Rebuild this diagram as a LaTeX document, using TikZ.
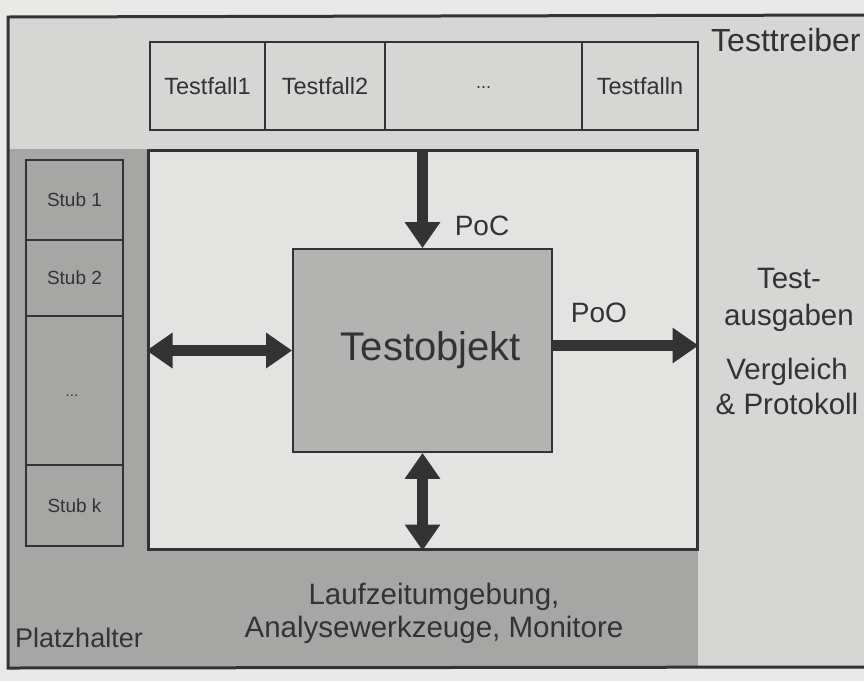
\documentclass[tikz,border=0pt]{standalone}
\usepackage{fontspec}
\setmainfont{Liberation Sans}
\usetikzlibrary{arrows.meta}
\definecolor{paper}{HTML}{E9E9E7}
\definecolor{lightbg}{HTML}{D6D6D4}
\definecolor{graybg}{HTML}{A6A6A4}
\definecolor{innerbg}{HTML}{E3E3E1}
\definecolor{objbg}{HTML}{B3B3B1}
\definecolor{ink}{HTML}{333333}
\tikzset{
  cell/.style={draw=ink, line width=1.6pt, fill=lightbg, inner sep=0pt, text=ink, font=\fontsize{23.5}{26}\selectfont},
  stubcell/.style={draw=ink, line width=1.6pt, fill=graybg, inner sep=0pt, text=ink, font=\fontsize{19}{22}\selectfont},
  lbl/.style={text=ink, inner sep=0pt, align=center, font=\fontsize{28}{36}\selectfont},
  fat/.style={draw=ink, line width=11pt, -{Triangle[length=26pt,width=34pt]}},
  fatboth/.style={draw=ink, line width=11pt, {Triangle[length=26pt,width=34pt]}-{Triangle[length=26pt,width=34pt]}},
}
\begin{document}
\begin{tikzpicture}[x=1pt,y=-1pt]
\useasboundingbox (0,0) rectangle (864,681);
\fill[paper] (0,0) rectangle (864,681);
% page of the book
\fill[lightbg] (8,16) rectangle (870,668);
\fill[graybg] (8,149) rectangle (698,668);
\draw[ink, line width=3pt] (870,15) -- (8,17) -- (8,668) -- (870,667);
% test cases row
\node[cell, minimum width=115pt, minimum height=88pt] (tf1) at (207.5,86) {Testfall1};
\node[cell, minimum width=120pt, minimum height=88pt] (tf2) at (325,86) {Testfall2};
\node[cell, minimum width=197pt, minimum height=88pt] (tf3) at (483.5,86) {};
\node[text=ink, inner sep=0pt, font=\fontsize{18}{20}\selectfont] (tf3dots) at (483.5,88) {...};
\node[cell, minimum width=116pt, minimum height=88pt] (tfn) at (640,86) {Testfalln};
% stubs column
\node[stubcell, minimum width=97pt, minimum height=80pt] (s1) at (74.5,200) {Stub 1};
\node[stubcell, minimum width=97pt, minimum height=76pt] (s2) at (74.5,278) {Stub 2};
\node[stubcell, minimum width=97pt, minimum height=149pt] (s3) at (74.5,390.5) {};
\node[text=ink, inner sep=0pt, font=\fontsize{15}{16}\selectfont] (s3dots) at (72,396) {...};
\node[stubcell, minimum width=97pt, minimum height=81pt] (sk) at (74.5,505.5) {Stub k};
% inner environment box
\node[draw=ink, line width=3pt, fill=innerbg, minimum width=549pt, minimum height=399pt, inner sep=0pt] (inner) at (422.5,349.5) {};
% test object
\node[draw=ink, line width=1.8pt, fill=objbg, minimum width=259pt, minimum height=203pt, inner sep=0pt] (obj) at (422.5,350.5) {};
\node[text=ink, inner sep=0pt, font=\fontsize{40}{46}\selectfont] (objtxt) at (431,350) {Testobjekt};
% arrows
\draw[fat] (inner.north) -- (obj.north);
\draw[fat] ([yshift=5pt]obj.east) -- ([yshift=5pt]obj.east -| inner.east);
\draw[fatboth] (inner.west |- obj.west) -- (obj.west);
\draw[fatboth] (obj.south) -- (inner.south);
% labels
\node[lbl] (poc) at (482,226) {PoC};
\node[lbl] (poo) at (599,313) {PoO};
\node[lbl, font=\fontsize{32}{36}\selectfont, anchor=west] (drv) at (711,40) {Testtreiber};
\node[lbl, font=\fontsize{29.5}{37}\selectfont] (out) at (789,300) {Test-\\ausgaben};
\node[lbl, font=\fontsize{29.5}{35}\selectfont] (cmp) at (787,386) {Vergleich\\\& Protokoll};
\node[lbl, font=\fontsize{29.5}{33}\selectfont] (env) at (434,613) {Laufzeitumgebung,\\Analysewerkzeuge, Monitore};
\node[lbl, font=\fontsize{27}{33}\selectfont] (ph) at (79,638) {Platzhalter};
\end{tikzpicture}
\end{document}
